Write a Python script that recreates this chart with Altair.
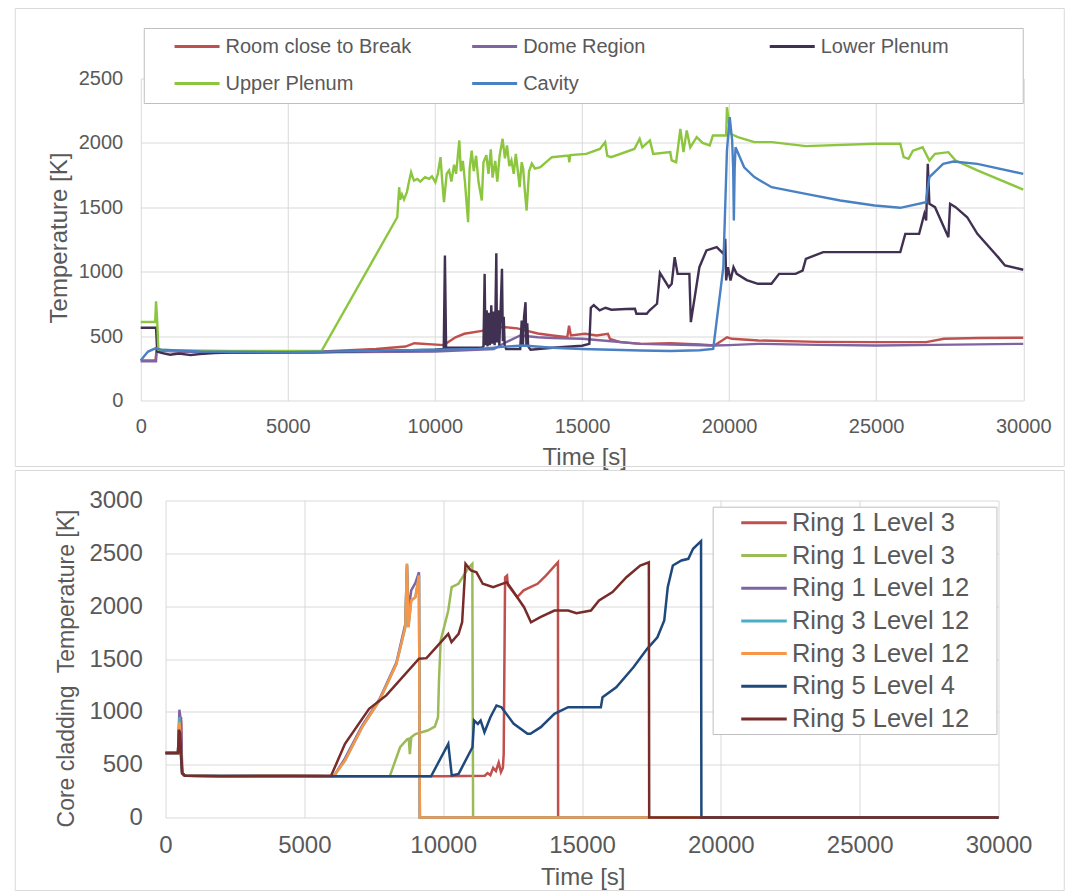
import altair as alt
import pandas as pd

FONT = "Liberation Sans"
TXT = "#595959"
GRID = "#d9d9d9"

TIME_TICKS = [0, 5000, 10000, 15000, 20000, 25000, 30000]
TOP_Y_TICKS = [0, 500, 1000, 1500, 2000, 2500]
BOT_Y_TICKS = [0, 500, 1000, 1500, 2000, 2500, 3000]

# ---------------- top panel: (time [s], temperature [K]) ----------------
top_names = ["Room close to Break", "Dome Region", "Lower Plenum", "Upper Plenum", "Cavity"]
top_colors = ["#c0504d", "#8064a2", "#403152", "#8cc63f", "#4a80c4"]

room_break = [(0, 310), (500, 310), (540, 400), (600, 390), (2000, 375), (4000, 375), (6000, 378),
              (8000, 400), (9000, 419), (9300, 445), (10300, 430), (10700, 491), (11000, 518),
              (11600, 540), (12000, 569), (12400, 569), (12800, 560), (13100, 543), (13500, 520),
              (14000, 505), (14500, 491), (14560, 580), (14620, 505), (15100, 518), (15500, 505),
              (15880, 518), (15950, 479), (16300, 453), (17000, 440), (18000, 445), (19000, 435),
              (19500, 427), (19930, 491), (20100, 479), (21000, 466), (23000, 455), (25000, 453),
              (26700, 453), (27300, 479), (28500, 485), (30000, 487)]

dome_region = [(0, 305), (520, 305), (545, 400), (700, 385), (2000, 375), (6000, 375), (10000, 380),
               (12000, 400), (12400, 450), (12900, 505), (13500, 491), (14000, 485), (15000, 479),
               (16000, 460), (17000, 440), (18000, 435), (19500, 427), (20000, 430), (21000, 440),
               (23000, 432), (25000, 427), (27000, 432), (30000, 440)]

lower_plenum = [(0, 565), (520, 565), (560, 380), (700, 370), (1000, 355), (1300, 365), (1700, 352),
                (2000, 360), (2500, 368), (3000, 372), (6000, 375), (8000, 385), (10000, 395),
                (10300, 400), (10340, 1126), (10380, 410), (11600, 410), (11650, 420), (11690, 983),
                (11720, 430), (11760, 700), (11790, 420), (11830, 680), (11870, 430), (11917, 740),
                (11950, 440), (11990, 690), (12030, 430), (12060, 720), (12087, 1144), (12110, 450),
                (12150, 700), (12190, 430), (12230, 680), (12280, 1022), (12310, 460), (12340, 650),
                (12370, 430), (12420, 400), (12900, 400), (12950, 620), (12990, 420), (13030, 650),
                (13080, 763), (13110, 430), (13140, 600), (13170, 420), (13250, 395), (14000, 410),
                (15000, 425), (15250, 440), (15300, 720), (15400, 740), (15600, 700), (15800, 720),
                (16000, 705), (16500, 710), (16800, 712), (16850, 673), (17200, 673), (17300, 700),
                (17550, 751), (17650, 990), (17950, 880), (18050, 906), (18150, 1113), (18250, 983),
                (18650, 983), (18700, 608), (18990, 1035), (19230, 1165), (19580, 1190), (19810, 1139),
                (19870, 1255), (19900, 932), (19960, 1035), (20050, 932), (20150, 1035), (20260, 983),
                (20600, 935), (20980, 906), (21440, 906), (21700, 983), (22260, 983), (22500, 1009),
                (22610, 1100), (23200, 1152), (25820, 1152), (25990, 1294), (26460, 1294),
                (26640, 1450), (26700, 1398), (26755, 1837), (26810, 1527), (27000, 1501),
                (27455, 1268), (27513, 1527), (27700, 1501), (28095, 1423), (28440, 1294),
                (29145, 1113), (29378, 1048), (30000, 1015)]

upper_plenum = [(0, 610), (490, 610), (520, 770), (560, 610), (600, 395), (1000, 390), (3000, 385),
                (6150, 385), (8720, 1423), (8785, 1656), (8820, 1560), (8880, 1600), (8950, 1560),
                (9050, 1620), (9120, 1700), (9190, 1772), (9250, 1730), (9290, 1708), (9400, 1720),
                (9500, 1700), (9663, 1734), (9800, 1720), (9900, 1740), (10015, 1695), (10100, 1760),
                (10190, 1889), (10250, 1700), (10308, 1540), (10400, 1760), (10483, 1786),
                (10560, 1700), (10650, 1830), (10720, 1760), (10830, 2019), (10880, 1780),
                (10950, 1860), (11020, 1700), (11128, 1384), (11180, 1800), (11250, 1940),
                (11320, 1780), (11400, 1900), (11480, 1700), (11594, 1553), (11650, 1850),
                (11750, 1905), (11820, 1760), (11900, 1950), (11960, 1730), (12050, 1860),
                (12120, 1700), (12200, 1900), (12300, 2032), (12380, 1880), (12450, 1980),
                (12530, 1820), (12600, 1864), (12680, 1760), (12750, 1915), (12820, 1780),
                (12880, 1656), (12950, 1850), (13000, 1800), (13060, 1620), (13117, 1475),
                (13200, 1780), (13294, 1840), (13400, 1800), (13584, 1811), (13977, 1889),
                (14540, 1902), (14570, 1850), (14600, 1905), (15143, 1915), (15609, 1953),
                (15786, 2006), (15860, 1900), (15990, 1889), (16780, 1953), (16960, 2032),
                (17050, 1966), (17310, 2019), (17420, 1915), (18000, 1928), (18050, 1864),
                (18200, 1850), (18344, 2109), (18450, 1928), (18560, 2097), (18680, 1966),
                (18900, 2045), (19100, 2000), (19343, 1980), (19450, 2058), (19900, 2058),
                (19928, 2277), (20043, 2071), (20300, 2045), (20860, 2006), (21455, 2006),
                (22610, 1975), (24940, 1993), (25820, 1993), (25935, 1889), (26100, 1876),
                (26250, 1940), (26578, 1966), (26810, 1863), (27000, 1915), (27455, 1928),
                (27700, 1863), (28440, 1786), (30000, 1638)]

cavity = [(0, 310), (100, 340), (250, 380), (500, 405), (700, 395), (2000, 380), (5000, 375),
          (8000, 385), (10000, 395), (11500, 401), (12500, 420), (13000, 427), (14000, 409),
          (15000, 400), (16000, 394), (17000, 388), (18000, 384), (19000, 390), (19460, 401),
          (19805, 1035), (19927, 1941), (20022, 2200), (20104, 2019), (20140, 1800), (20162, 1398),
          (20190, 1800), (20220, 1966), (20512, 1811), (20860, 1734), (21445, 1656), (22610, 1604),
          (23780, 1553), (24946, 1514), (25820, 1496), (26693, 1540), (26754, 1656), (26810, 1734),
          (27277, 1837), (27625, 1855), (28440, 1837), (30000, 1760)]

top_data = [room_break, dome_region, lower_plenum, upper_plenum, cavity]

# ---------------- bottom panel: core cladding temperatures ----------------
bot_names = ["Ring 1 Level 3", "Ring 1 Level 3 ", "Ring 1 Level 12", "Ring 3 Level 12",
             "Ring 3 Level 12 ", "Ring 5 Level 4", "Ring 5 Level 12"]
bot_colors = ["#c0504d", "#9bbb59", "#8064a2", "#4bacc6", "#f79646", "#1f497d", "#772c2a"]

r1_l3_a = [(0, 610), (450, 610), (500, 850), (560, 950), (600, 420), (650, 400), (700, 395),
           (2000, 390), (6000, 390), (10000, 390), (11500, 395), (11600, 420), (11700, 400),
           (11800, 470), (11900, 440), (12000, 520), (12080, 430), (12150, 470), (12180, 600),
           (12230, 2274), (12300, 2290), (12330, 2200), (12665, 2085), (12900, 2150), (13143, 2180),
           (13400, 2212), (13700, 2290), (14134, 2416), (14140, 0), (30000, 0)]

r1_l3_b = [(0, 610), (450, 610), (500, 900), (600, 420), (700, 395), (6000, 390), (8078, 390),
           (8448, 665), (8700, 740), (8760, 745), (8800, 600), (8850, 760), (9000, 790), (9439, 823),
           (9700, 860), (9814, 949), (9850, 1300), (9911, 1675), (10184, 1959), (10306, 2180),
           (10550, 2212), (10929, 2369), (11050, 2401), (11078, 0), (30000, 0)]

r1_l12 = [(0, 610), (450, 610), (500, 1020), (560, 900), (600, 420), (700, 395), (6000, 390),
          (6086, 400), (6464, 560), (7083, 870), (7705, 1120), (8318, 1470), (8636, 1830),
          (8697, 2380), (8750, 1950), (8850, 2150), (9000, 2220), (9129, 2322), (9160, 0), (30000, 0)]

r3_l12_a = [(0, 610), (450, 610), (500, 950), (600, 420), (700, 395), (6000, 390), (6086, 400),
            (6464, 539), (7083, 855), (7705, 1107), (8318, 1455), (8636, 1801), (8697, 2401),
            (8750, 1801), (8850, 2054), (9000, 2085), (9129, 2290), (9160, 0), (30000, 0)]

r3_l12_b = [(0, 610), (450, 610), (500, 900), (600, 420), (700, 395), (6000, 390), (6086, 400),
            (6464, 539), (7083, 855), (7705, 1107), (8318, 1455), (8636, 1801), (8697, 2401),
            (8750, 1801), (8850, 2054), (9000, 2085), (9129, 2290), (9160, 0), (30000, 0)]

r5_l4 = [(0, 610), (450, 610), (500, 780), (600, 420), (700, 395), (6000, 390), (9564, 390),
         (10184, 697), (10310, 397), (10556, 413), (11055, 665), (11113, 918), (11250, 886),
         (11350, 918), (11487, 807), (11700, 949), (11920, 1060), (12100, 1044), (12543, 886),
         (13036, 792), (13143, 792), (13515, 855), (14006, 981), (14500, 1044), (15680, 1044),
         (15740, 1139), (16233, 1233), (16853, 1422), (17347, 1596), (17716, 1706), (17962, 1864),
         (18088, 2180), (18272, 2385), (18581, 2432), (18830, 2448), (19000, 2543), (19287, 2615),
         (19300, 0), (30000, 0)]

r5_l12 = [(0, 610), (450, 610), (480, 830), (530, 800), (600, 420), (700, 395), (2000, 390),
          (5967, 397), (6464, 697), (7332, 1029), (7951, 1155), (9129, 1502), (9400, 1508),
          (10184, 1738), (10300, 1660), (10556, 1738), (10683, 1848), (10805, 2401), (11000, 2338),
          (11200, 2320), (11426, 2212), (11800, 2180), (12293, 2227), (12500, 2148), (12913, 1990),
          (13162, 1848), (13500, 1896), (14006, 1959), (14500, 1959), (14800, 1933), (15322, 1959),
          (15614, 2054), (16100, 2133), (16600, 2274), (17097, 2385), (17407, 2416), (17420, 0),
          (30000, 0)]

bot_data = [r1_l3_a, r1_l3_b, r1_l12, r3_l12_a, r3_l12_b, r5_l4, r5_l12]

# ---------------- layout (pixels) ----------------
TW, TH = 882.5, 322
BW, BH = 833, 317


def frame_rect(x1, x2, y1, y2, fill, opacity, stroke):
    return alt.Chart(pd.DataFrame({"k": [0]})).mark_rect(
        fill=fill, fillOpacity=opacity, stroke=stroke, strokeWidth=1
    ).encode(x=alt.value(x1), x2=alt.value(x2), y=alt.value(y1), y2=alt.value(y2))


# ---- top chart
top_x = alt.X("t:Q", scale=alt.Scale(domain=[0, 30000], nice=False),
              axis=alt.Axis(values=TIME_TICKS, format="d", title="Time [s]", grid=True,
                            gridColor=GRID, domain=False, ticks=False, labelFlush=False,
                            labelOverlap=False, labelFontSize=20, labelPadding=16,
                            labelColor=TXT, labelFont=FONT, titleFont=FONT, titleFontSize=24,
                            titleColor=TXT, titleFontWeight="normal", titleX=443.5, titleY=57,
                            titleBaseline="middle", titleAlign="center"))
top_y = alt.Y("v:Q", scale=alt.Scale(domain=[0, 2500], nice=False),
              axis=alt.Axis(values=TOP_Y_TICKS, format="d", title="Temperature [K]", grid=True,
                            gridColor=GRID, domain=False, ticks=False, labelOverlap=False,
                            labelFontSize=20, labelPadding=18, labelColor=TXT, labelFont=FONT,
                            titleFont=FONT, titleFontSize=24, titleColor=TXT,
                            titleFontWeight="normal", titleX=-81.3, titleY=159, titleAngle=270,
                            titleBaseline="middle", titleAlign="center"))
top_legend = alt.Legend(title=None, orient="none", legendX=32.3, legendY=-56,
                        direction="horizontal", columns=3, gridAlign="all", symbolType="stroke",
                        symbolSize=2025, symbolStrokeWidth=3, labelFontSize=20, labelColor=TXT,
                        labelFont=FONT, labelLimit=400, columnPadding=53.6, rowPadding=3,
                        labelOffset=4.5, padding=0)
top_color = alt.Color("series:N", scale=alt.Scale(domain=top_names, range=top_colors),
                      legend=top_legend)

top_layers = [frame_rect(-125.5, 923.5, -70, 388, "white", 0, GRID),
              frame_rect(3.5, 882.5, -50, 25, "white", 1, "#bfbfbf")]
for name, pts in zip(top_names, top_data):
    df = pd.DataFrame(pts, columns=["t", "v"])
    df["series"] = name
    top_layers.append(alt.Chart(df).mark_line(strokeWidth=2.4).encode(
        x=top_x, y=top_y, color=top_color))
top = alt.layer(*top_layers).properties(width=TW, height=TH)

# ---- bottom chart (plot origin lands at x = 164.25 when centred under the top one)
bot_x = alt.X("t2:Q", scale=alt.Scale(domain=[0, 30000], nice=False),
              axis=alt.Axis(values=TIME_TICKS, format="d", title="Time [s]", grid=True,
                            gridColor=GRID, domain=False, ticks=False, labelFlush=False,
                            labelOverlap=False, labelFontSize=24, labelPadding=16,
                            labelColor=TXT, labelFont=FONT, titleFont=FONT, titleFontSize=24,
                            titleColor=TXT, titleFontWeight="normal", titleX=417.25, titleY=59.7,
                            titleBaseline="middle", titleAlign="center"))
bot_y = alt.Y("v2:Q", scale=alt.Scale(domain=[0, 3000], nice=False),
              axis=alt.Axis(values=BOT_Y_TICKS, format="d",
                            title="Core cladding\u00a0 Temperature [K]", grid=True,
                            gridColor=GRID, domain=False, ticks=False, labelOverlap=False,
                            labelFontSize=24, labelPadding=23.2, labelColor=TXT, labelFont=FONT,
                            titleFont=FONT, titleFontSize=23, titleColor=TXT,
                            titleFontWeight="normal", titleX=-98.6, titleY=167.5, titleAngle=270,
                            titleBaseline="middle", titleAlign="center"))
# wide, thin custom stroke symbol keeps the entry rows as tight as the labels
bot_legend = alt.Legend(title=None, orient="none", legendX=585.75, legendY=9.55,
                        direction="vertical", symbolType="M-2.275,0H2.275", symbolSize=400,
                        symbolStrokeWidth=3, labelFontSize=25.5, labelColor=TXT, labelFont=FONT,
                        labelLimit=400, rowPadding=5.7, labelOffset=15.2, padding=0)
bot_color = alt.Color("ring:N", scale=alt.Scale(domain=bot_names, range=bot_colors),
                      legend=bot_legend)

bot_layers = [frame_rect(-150.25, 898.75, -30, 390, "white", 0, GRID),
              frame_rect(547.65, 831.45, 6.7, 234, "white", 1, "#bfbfbf")]
for name, pts in zip(bot_names, bot_data):
    df = pd.DataFrame(pts, columns=["t2", "v2"])
    df["ring"] = name
    bot_layers.append(alt.Chart(df).mark_line(strokeWidth=2.5).encode(
        x=bot_x, y=bot_y, color=bot_color))
bottom = alt.layer(*bot_layers).properties(width=BW, height=BH)

chart = alt.vconcat(top, bottom, spacing=100, bounds="flush", center=True).resolve_scale(
    color="independent", x="independent", y="independent"
).properties(
    padding={"left": 13.5, "top": 7.5, "right": 0, "bottom": 0}, background="white"
).configure_view(stroke="transparent")

chart.save("out.html", embed_options={"renderer": "svg", "actions": False})
